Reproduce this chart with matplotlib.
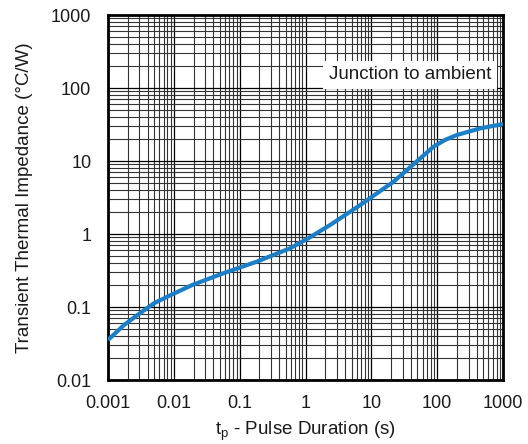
import matplotlib
matplotlib.use("Agg")
import matplotlib.pyplot as plt
from matplotlib.ticker import LogLocator, FixedLocator, FixedFormatter, NullFormatter

plt.rcParams["font.family"] = ["Liberation Sans", "DejaVu Sans"]
plt.rcParams["mathtext.fontset"] = "custom"
plt.rcParams["mathtext.rm"] = "Liberation Sans"

# ── Data ──────────────────────────────────────────────────────────────
pulse_s = [0.001, 0.00175, 0.0028, 0.005, 0.009, 0.019, 0.0565, 0.182,
           0.583, 1.1, 2.37, 6.8, 21.7, 34.6, 88, 131, 199, 450, 1000]
zth_cw = [0.0353, 0.0566, 0.0776, 0.1125, 0.146, 0.200, 0.29, 0.418,
          0.637, 0.873, 1.33, 2.5, 5.2, 7.5, 15.7, 19.4, 22.7, 28, 32.1]

x_ticks = [0.001, 0.01, 0.1, 1, 10, 100, 1000]
x_labels = ["0.001", "0.01", "0.1", "1", "10", "100", "1000"]
y_ticks = [0.01, 0.1, 1, 10, 100, 1000]
y_labels = ["0.01", "0.1", "1", "10", "100", "1000"]

fig = plt.figure(figsize=(5.28, 4.44), dpi=100)
ax = fig.add_axes([0.2045, 0.1441, 0.7482, 0.8221])

ax.set_xscale("log")
ax.set_yscale("log")
ax.set_xlim(0.001, 1000)
ax.set_ylim(0.01, 1000)

ax.xaxis.set_major_locator(FixedLocator(x_ticks))
ax.xaxis.set_major_formatter(FixedFormatter(x_labels))
ax.yaxis.set_major_locator(FixedLocator(y_ticks))
ax.yaxis.set_major_formatter(FixedFormatter(y_labels))
ax.xaxis.set_minor_locator(LogLocator(base=10, subs=range(2, 10), numticks=20))
ax.yaxis.set_minor_locator(LogLocator(base=10, subs=range(2, 10), numticks=20))
ax.xaxis.set_minor_formatter(NullFormatter())
ax.yaxis.set_minor_formatter(NullFormatter())

# grid: major + minor, all dark
ax.grid(which="major", color="black", linewidth=0.9)
ax.grid(which="minor", color="#333333", linewidth=0.8)
ax.set_axisbelow(True)
ax.tick_params(which="both", length=0, labelsize=13, colors="#1a1a1a")
ax.tick_params(axis="y", pad=12)
ax.tick_params(axis="x", pad=11)

for sp in ax.spines.values():
    sp.set_linewidth(2)
    sp.set_color("black")

ax.plot(pulse_s, zth_cw, color="#1b7fc8", linewidth=3,
        solid_joinstyle="round", solid_capstyle="butt", zorder=3)

ax.text(0.765, 0.836, "Junction to ambient", transform=ax.transAxes,
        fontsize=13.5, ha="center", va="center", color="#1a1a1a", zorder=4,
        bbox=dict(boxstyle="square,pad=0.3", facecolor="white", edgecolor="none"))

ax.set_xlabel(r"t$_\mathregular{p}$ - Pulse Duration (s)", fontsize=13.5,
              labelpad=5, color="#1a1a1a")
ax.set_ylabel("Transient Thermal Impedance (°C/W)", fontsize=13.5,
              labelpad=13, color="#1a1a1a")

fig.savefig("out.png", dpi=100)
